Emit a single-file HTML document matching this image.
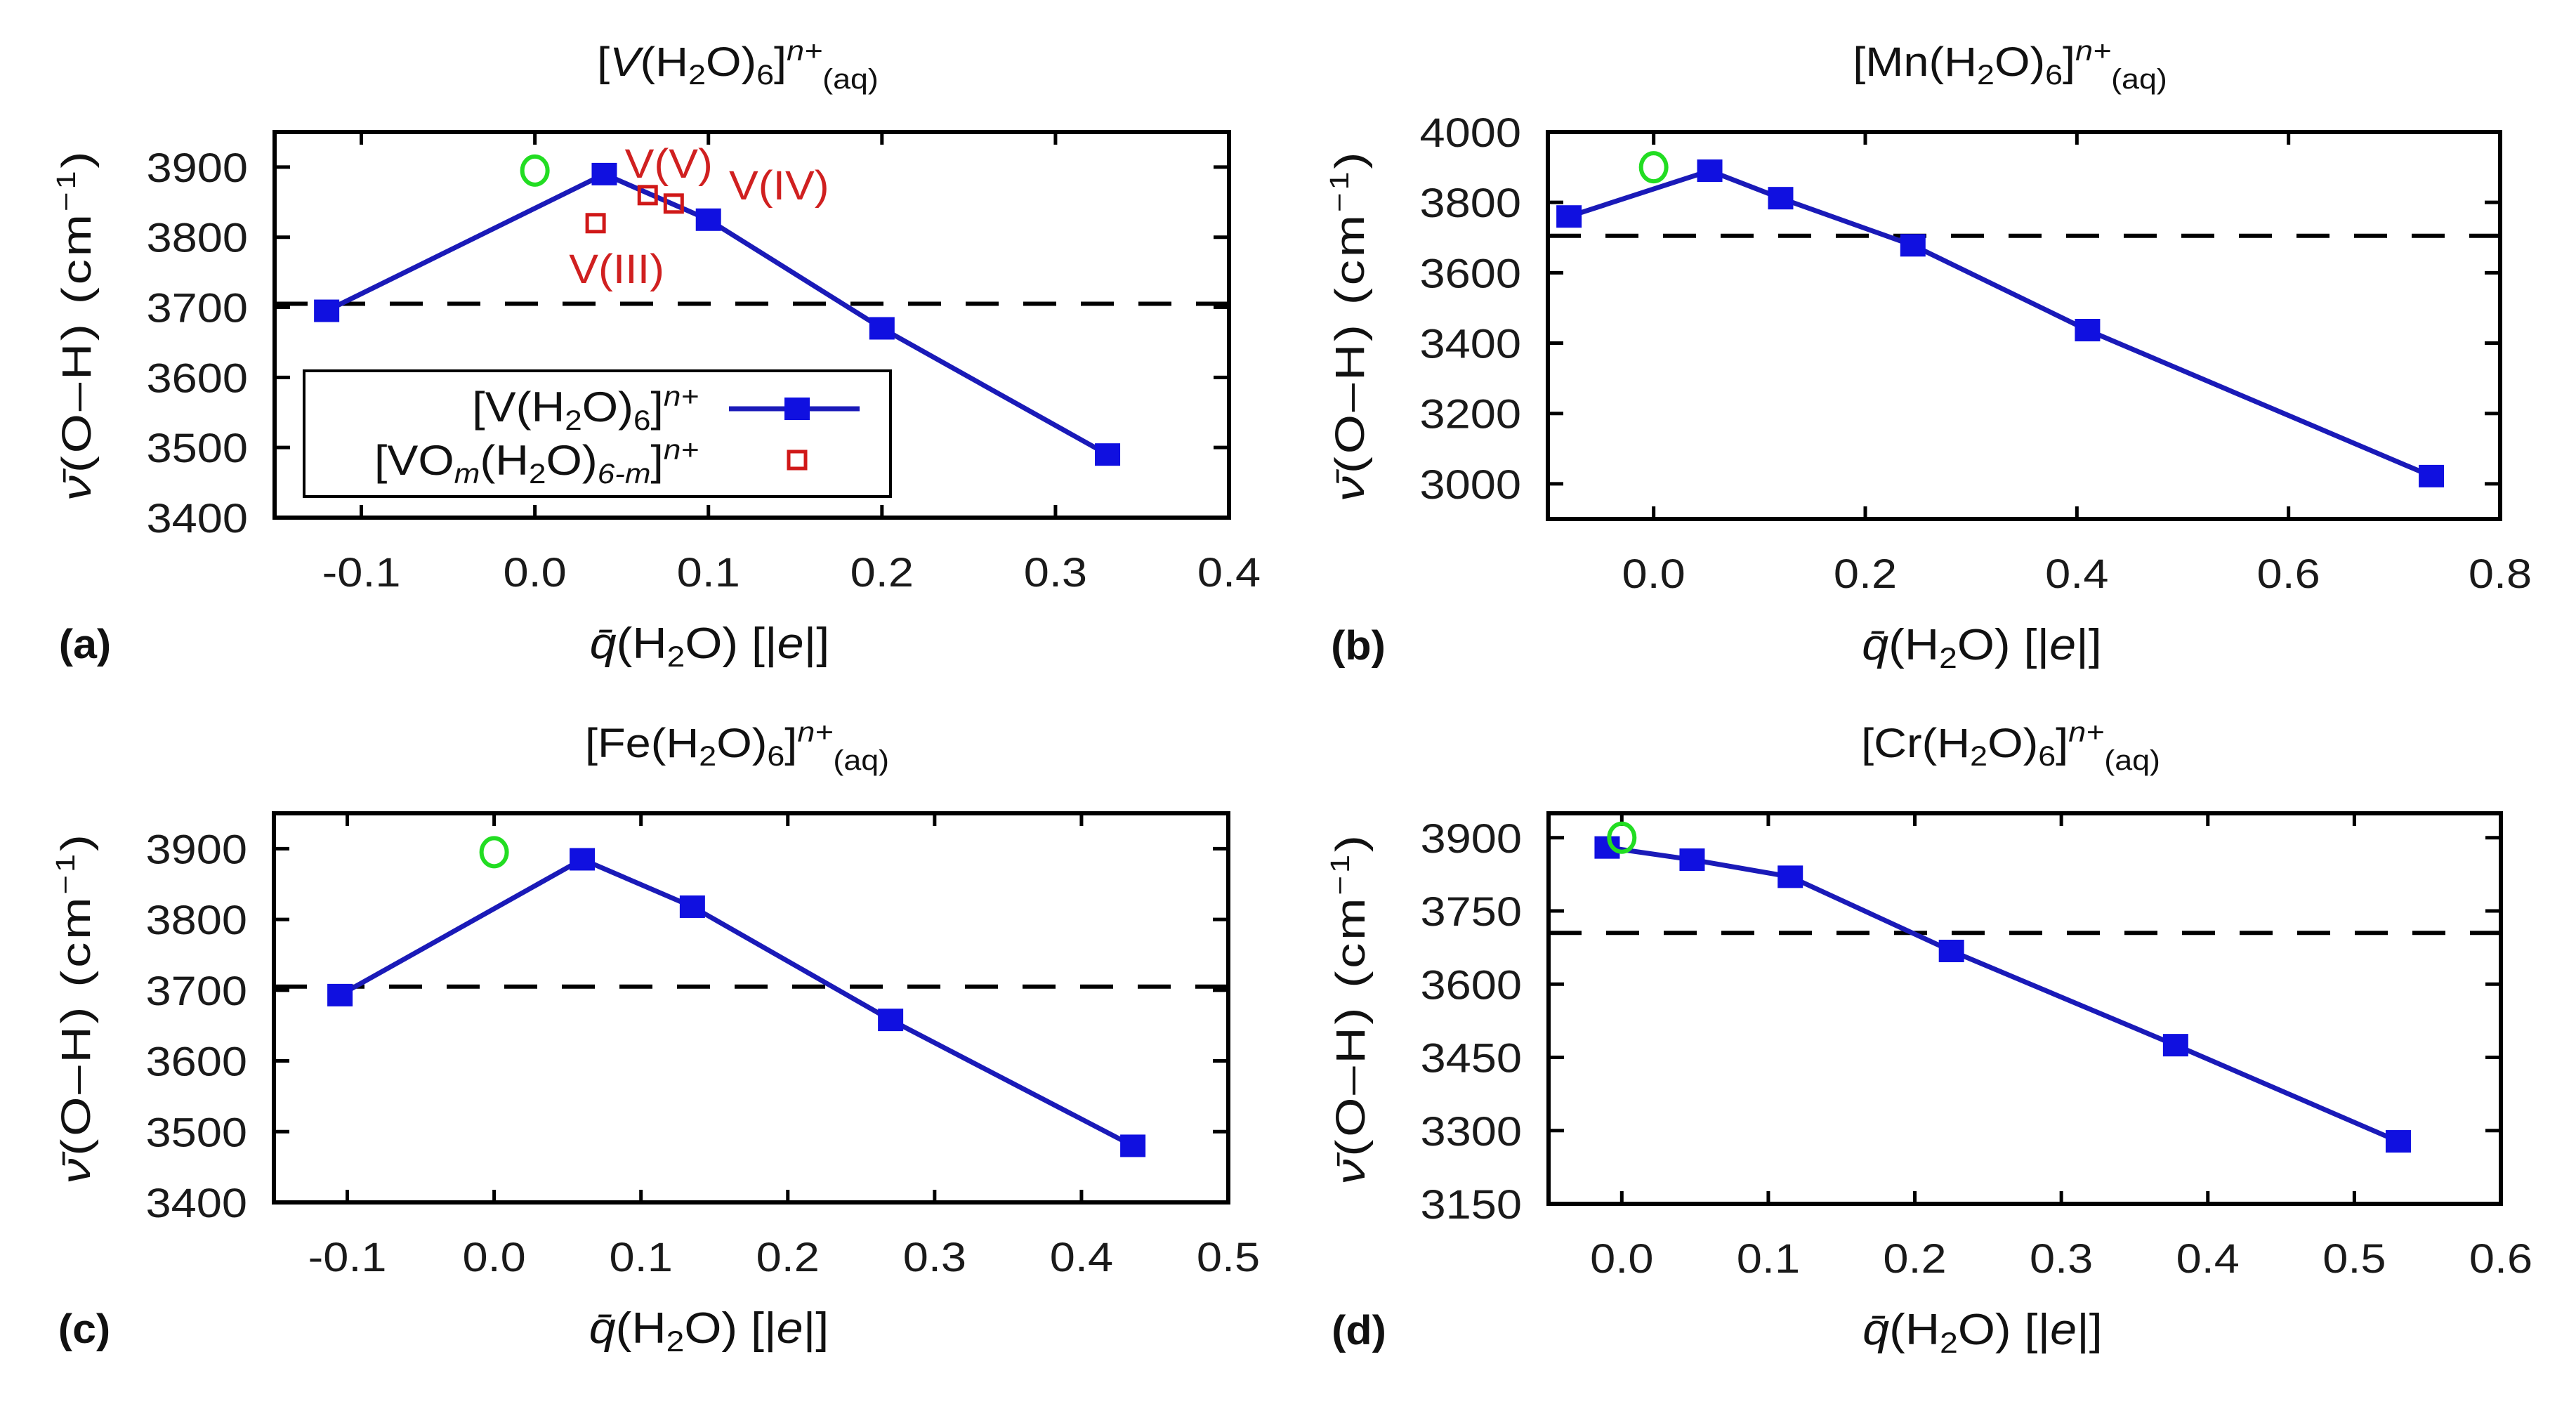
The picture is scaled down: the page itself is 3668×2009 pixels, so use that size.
<!DOCTYPE html>
<html><head><meta charset="utf-8"><style>
html,body{margin:0;padding:0;background:#fff;}
svg{display:block;font-family:"Liberation Sans","DejaVu Sans",sans-serif;}
</style></head><body>
<svg id="fig" width="3668" height="2009" viewBox="0 0 3668 2009" xmlns="http://www.w3.org/2000/svg"></svg>
<script>
// Panel (a) V
const aCatX = [-0.12, 0.04, 0.10, 0.20, 0.33];
const aValY = [3695, 3890, 3825, 3670, 3490];
const aRedX = [0.035, 0.065, 0.08];
const aRedY = [3820, 3860, 3848];
const aRedLbl = ["V(III)", "V(V)", "V(IV)"];
const aXTicks = [-0.1, 0.0, 0.1, 0.2, 0.3, 0.4];
const aYTicks = [3400, 3500, 3600, 3700, 3800, 3900];
// Panel (b) Mn
const bCatX = [-0.08, 0.053, 0.12, 0.245, 0.41, 0.735];
const bValY = [3760, 3890, 3812, 3678, 3437, 3022];
const bXTicks = [0.0, 0.2, 0.4, 0.6, 0.8];
const bYTicks = [3000, 3200, 3400, 3600, 3800, 4000];
// Panel (c) Fe
const cCatX = [-0.105, 0.06, 0.135, 0.27, 0.435];
const cValY = [3693, 3885, 3818, 3658, 3480];
const cXTicks = [-0.1, 0.0, 0.1, 0.2, 0.3, 0.4, 0.5];
const cYTicks = [3400, 3500, 3600, 3700, 3800, 3900];
// Panel (d) Cr
const dCatX = [-0.01, 0.048, 0.115, 0.225, 0.378, 0.53];
const dValY = [3880, 3855, 3820, 3668, 3475, 3278];
const dXTicks = [0.0, 0.1, 0.2, 0.3, 0.4, 0.5, 0.6];
const dYTicks = [3150, 3300, 3450, 3600, 3750, 3900];
// reference values
const greenX = [0.0, 0.0, 0.0, 0.0];
const greenY = [3895, 3900, 3895, 3900];
const dashY = [3705, 3705, 3705, 3705];

const NS = "http://www.w3.org/2000/svg";
const svg = document.getElementById('fig');
function mk(tag, attrs, parent) {
  const e = document.createElementNS(NS, tag);
  for (const k in attrs) e.setAttribute(k, attrs[k]);
  (parent || svg).appendChild(e);
  return e;
}
function txt(parent, x, y, s, size, anchor, sx, color, weight) {
  const t = mk('text', {transform: `translate(${x},${y}) scale(${sx||1.22},1)`, 'font-size': size, 'text-anchor': anchor || 'middle', fill: color || '#111'}, parent);
  if (weight) t.setAttribute('font-weight', weight);
  t.innerHTML = s;
  return t;
}
const TS = 'font-size="40"';
function cplx(m, italicM) {
  const mm = italicM ? '<tspan font-style="italic">' + m + '</tspan>' : m;
  return '[' + mm + '(H<tspan ' + TS + ' dy="12">2</tspan><tspan dy="-12">O)</tspan><tspan ' + TS + ' dy="12">6</tspan><tspan dy="-12">]</tspan><tspan ' + TS + ' font-style="italic" dy="-22">n+</tspan><tspan ' + TS + ' dy="40">(aq)</tspan>';
}

const panels = [
  {id:'a', name:'vanadium', L:391, R:1750, T:188, B:737, x0:-0.15, x1:0.4, y0:3400, y1:3950, X:aCatX, Y:aValY, xt:aXTicks, yt:aYTicks, dec:1, g:0, title:cplx('V', true)},
  {id:'b', name:'manganese', L:2204, R:3560, T:188, B:739, x0:-0.1, x1:0.8, y0:2900, y1:4000, X:bCatX, Y:bValY, xt:bXTicks, yt:bYTicks, dec:1, g:1, title:cplx('Mn')},
  {id:'c', name:'iron', L:390, R:1749, T:1158, B:1712, x0:-0.15, x1:0.5, y0:3400, y1:3950, X:cCatX, Y:cValY, xt:cXTicks, yt:cYTicks, dec:1, g:2, title:cplx('Fe')},
  {id:'d', name:'chromium', L:2205, R:3561, T:1158, B:1714, x0:-0.05, x1:0.6, y0:3150, y1:3950, X:dCatX, Y:dValY, xt:dXTicks, yt:dYTicks, dec:1, g:3, title:cplx('Cr')}
];

panels.forEach(p => {
  const g = mk('g', {});
  
  
  const sx = v => p.L + (v - p.x0) / (p.x1 - p.x0) * (p.R - p.L);
  const sy = v => p.B - (v - p.y0) / (p.y1 - p.y0) * (p.B - p.T);
  const cx = (p.L + p.R) / 2;
  const tt = txt(g, cx - 20, p.T - 80, p.title, 58, 'middle', 1.12);
  
  
  p.xt.forEach(v => {
    const x = sx(v);
    mk('line', {x1:x, y1:p.B, x2:x, y2:p.B-18, stroke:'#000', 'stroke-width':5}, g);
    mk('line', {x1:x, y1:p.T, x2:x, y2:p.T+18, stroke:'#000', 'stroke-width':5}, g);
    const l = txt(g, x, p.B + 98, v.toFixed(p.dec), 58, 'middle', 1.12, '#1a1a1a');
    
    
  });
  p.yt.forEach(v => {
    const y = sy(v);
    mk('line', {x1:p.L, y1:y, x2:p.L+22, y2:y, stroke:'#000', 'stroke-width':5}, g);
    mk('line', {x1:p.R, y1:y, x2:p.R-22, y2:y, stroke:'#000', 'stroke-width':5}, g);
    const l = txt(g, p.L - 38, y + 21, String(v), 58, 'end', 1.12, '#1a1a1a');
    
    
  });
  const dl = mk('line', {x1:p.L, x2:p.R, y1:sy(dashY[p.g]), y2:sy(dashY[p.g]), stroke:'#000', 'stroke-width':6, 'stroke-dasharray':'47 35'}, g);
  
  
  const pts = p.X.map((x, i) => sx(x) + ',' + sy(p.Y[i])).join(' ');
  const pl = mk('polyline', {points:pts, fill:'none', stroke:'#1a1ab8', 'stroke-width':7}, g);
  
  
  p.X.forEach((x, i) => {
    const r = mk('rect', {x:sx(x)-18, y:sy(p.Y[i])-16, width:36, height:32, fill:'#1010e0'}, g);
    
    
  });
  const gc = mk('ellipse', {cx:sx(greenX[p.g]), cy:sy(greenY[p.g]), rx:18, ry:20, fill:'none', stroke:'#22dd22', 'stroke-width':6}, g);
  
  
  const fr = mk('rect', {x:p.L, y:p.T, width:p.R-p.L, height:p.B-p.T, fill:'none', stroke:'#000', 'stroke-width':6}, g);
  
  
  const xa = txt(g, cx - 60, p.B + 200, '<tspan font-style="italic">q̄</tspan>(H<tspan font-size="42" dy="12">2</tspan><tspan dy="-12">O) [|</tspan><tspan font-style="italic">e</tspan>|]', 62, 'middle', 1.1);
  
  
  const ya = mk('text', {transform:`translate(${p.L-262},${(p.T+p.B)/2}) rotate(-90) scale(1.25,1)`, 'font-size':58, 'text-anchor':'middle', fill:'#111', 'letter-spacing':3}, g);
  ya.innerHTML = '<tspan font-style="italic">ν̄</tspan>(O–H) (cm<tspan font-size="38" dy="-22">−1</tspan><tspan dy="22">)</tspan>';
  
  
  const pl2 = txt(g, p.L - 270, p.B + 200, '(' + p.id + ')', 58, 'middle', 1.05, '#111', 'bold');
  
  

  if (p.id === 'a') {
    aRedX.forEach((x, i) => {
      const r = mk('rect', {x:sx(x)-12, y:sy(aRedY[i])-12, width:24, height:24, fill:'none', stroke:'#d01818', 'stroke-width':5}, g);
      
      
    });
    const offs = [[30, 85], [30, -25], [150, -6]];
    aRedLbl.forEach((s, i) => {
      const t = txt(g, sx(aRedX[i]) + offs[i][0], sy(aRedY[i]) + offs[i][1], s, 58, 'middle', 1.08, '#d02020');
      
      
    });
    const lg = mk('g', {}, g);
    
    
    mk('rect', {x:433, y:528, width:835, height:179, fill:'#fff', stroke:'#000', 'stroke-width':4}, lg);
    const e1 = txt(lg, 995, 600, '[V(H<tspan font-size="40" dy="12">2</tspan><tspan dy="-12">O)</tspan><tspan font-size="40" dy="12">6</tspan><tspan dy="-12">]</tspan><tspan font-size="40" font-style="italic" dy="-22">n+</tspan>', 60, 'end', 1.1);
    
    
    mk('line', {x1:1038, x2:1224, y1:582, y2:582, stroke:'#1a1ab8', 'stroke-width':7}, lg);
    mk('rect', {x:1117, y:566, width:36, height:32, fill:'#1010e0'}, lg);
    const e2 = txt(lg, 995, 676, '[VO<tspan font-size="40" font-style="italic" dy="12">m</tspan><tspan dy="-12">(H</tspan><tspan font-size="40" dy="12">2</tspan><tspan dy="-12">O)</tspan><tspan font-size="40" font-style="italic" dy="12">6-m</tspan><tspan dy="-12">]</tspan><tspan font-size="40" font-style="italic" dy="-22">n+</tspan>', 60, 'end', 1.1);
    
    
    mk('rect', {x:1123, y:643, width:24, height:24, fill:'none', stroke:'#d01818', 'stroke-width':5}, lg);
  }
});
</script>
</body></html>
